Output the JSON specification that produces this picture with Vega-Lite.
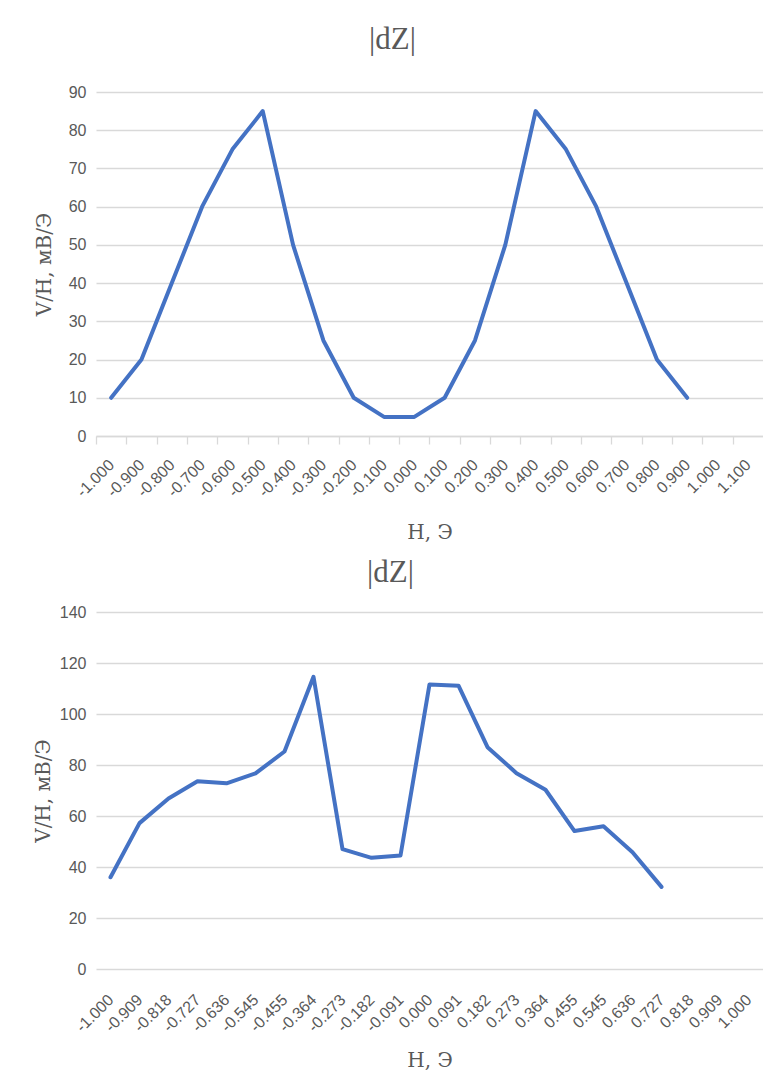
{
  "$schema": "https://vega.github.io/schema/vega-lite/v6.json",
  "padding": {"left": 33, "top": 24, "right": 0, "bottom": 0},
  "background": "white",
  "spacing": 14,
  "config": {
    "view": {"stroke": null},
    "axis": {
      "labelFont": "Liberation Sans",
      "labelFontSize": 16,
      "labelColor": "#595959",
      "titleFont": "DejaVu Serif",
      "titleFontSize": 20,
      "titleFontWeight": "normal",
      "titleColor": "#595959",
      "gridColor": "#d9d9d9",
      "gridWidth": 1.3,
      "domainColor": "#d9d9d9",
      "domainWidth": 1.3,
      "tickColor": "#d9d9d9",
      "tickWidth": 1.3
    },
    "title": {"font": "Liberation Serif", "fontSize": 31, "fontWeight": "normal", "color": "#595959", "anchor": "middle"}
  },
  "datasets": {
    "top": [
      {"H": "-1.000", "V": 10},
      {"H": "-0.900", "V": 20},
      {"H": "-0.800", "V": 40},
      {"H": "-0.700", "V": 60},
      {"H": "-0.600", "V": 75},
      {"H": "-0.500", "V": 85},
      {"H": "-0.400", "V": 50},
      {"H": "-0.300", "V": 25},
      {"H": "-0.200", "V": 10},
      {"H": "-0.100", "V": 5},
      {"H": "0.000", "V": 5},
      {"H": "0.100", "V": 10},
      {"H": "0.200", "V": 25},
      {"H": "0.300", "V": 50},
      {"H": "0.400", "V": 85},
      {"H": "0.500", "V": 75},
      {"H": "0.600", "V": 60},
      {"H": "0.700", "V": 40},
      {"H": "0.800", "V": 20},
      {"H": "0.900", "V": 10}
    ],
    "bottom": [
      {"H": "-1.000", "V": 36},
      {"H": "-0.909", "V": 57.2},
      {"H": "-0.818", "V": 66.9},
      {"H": "-0.727", "V": 73.6},
      {"H": "-0.636", "V": 72.8},
      {"H": "-0.545", "V": 76.7},
      {"H": "-0.455", "V": 85.3},
      {"H": "-0.364", "V": 114.6},
      {"H": "-0.273", "V": 47},
      {"H": "-0.182", "V": 43.6},
      {"H": "-0.091", "V": 44.5},
      {"H": "0.000", "V": 111.6},
      {"H": "0.091", "V": 111.1},
      {"H": "0.182", "V": 87},
      {"H": "0.273", "V": 76.8},
      {"H": "0.364", "V": 70.3},
      {"H": "0.455", "V": 54.1},
      {"H": "0.545", "V": 56},
      {"H": "0.636", "V": 45.8},
      {"H": "0.727", "V": 32.2}
    ]
  },
  "vconcat": [
    {
      "width": 667,
      "height": 344,
      "title": {"text": "|dZ|", "dx": -37, "offset": 28},
      "data": {"name": "top"},
      "mark": {"type": "line", "color": "#4472C4", "strokeWidth": 4, "strokeJoin": "round", "strokeCap": "round"},
      "encoding": {
        "x": {
          "field": "H",
          "type": "ordinal",
          "sort": null,
          "scale": {
            "type": "point",
            "padding": 0.5,
            "domain": ["-1.000", "-0.900", "-0.800", "-0.700", "-0.600", "-0.500", "-0.400", "-0.300", "-0.200", "-0.100", "0.000", "0.100", "0.200", "0.300", "0.400", "0.500", "0.600", "0.700", "0.800", "0.900", "1.000", "1.100"]
          },
          "axis": {
            "title": "H, Э",
            "labelAngle": -45,
            "labelAlign": "right",
            "labelBaseline": "middle",
            "tickOffset": -15.16,
            "labelOffset": 15.16,
            "tickSize": 8,
            "labelPadding": 18,
            "titlePadding": 23,
            "domain": true,
            "ticks": true,
            "grid": false
          }
        },
        "y": {
          "field": "V",
          "type": "quantitative",
          "scale": {"domain": [0, 90]},
          "axis": {
            "title": "V/H, мВ/Э",
            "values": [0, 10, 20, 30, 40, 50, 60, 70, 80, 90],
            "ticks": false,
            "domain": false,
            "labelPadding": 10,
            "titlePadding": 14,
            "grid": true
          }
        }
      }
    },
    {
      "width": 667,
      "height": 357,
      "title": {"text": "|dZ|", "dx": -39, "offset": 15},
      "data": {"name": "bottom"},
      "mark": {"type": "line", "color": "#4472C4", "strokeWidth": 4, "strokeJoin": "round", "strokeCap": "round"},
      "encoding": {
        "x": {
          "field": "H",
          "type": "ordinal",
          "sort": null,
          "scale": {
            "type": "point",
            "padding": 0.5,
            "domain": ["-1.000", "-0.909", "-0.818", "-0.727", "-0.636", "-0.545", "-0.455", "-0.364", "-0.273", "-0.182", "-0.091", "0.000", "0.091", "0.182", "0.273", "0.364", "0.455", "0.545", "0.636", "0.727", "0.818", "0.909", "1.000"]
          },
          "axis": {
            "title": "H, Э",
            "labelAngle": -45,
            "labelAlign": "right",
            "labelBaseline": "middle",
            "labelPadding": 28,
            "titlePadding": 16,
            "domain": false,
            "ticks": false,
            "grid": false
          }
        },
        "y": {
          "field": "V",
          "type": "quantitative",
          "scale": {"domain": [0, 140]},
          "axis": {
            "title": "V/H, мВ/Э",
            "values": [0, 20, 40, 60, 80, 100, 120, 140],
            "ticks": false,
            "domain": false,
            "labelPadding": 10,
            "titlePadding": 6,
            "grid": true
          }
        }
      }
    }
  ]
}
